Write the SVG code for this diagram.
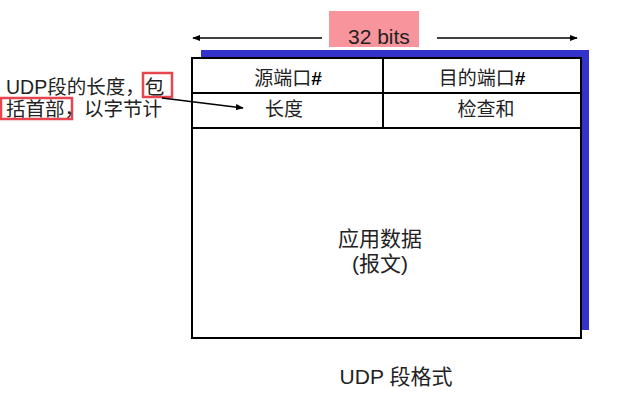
<svg xmlns="http://www.w3.org/2000/svg" width="619" height="401" viewBox="0 0 619 401">
<defs>
<style>
.t{font-family:"Liberation Sans","Noto Sans CJK SC",sans-serif;fill:#222;}
.ln{stroke:#000;stroke-width:2;fill:none;}
.hl{fill:none;stroke:#e8464f;stroke-width:2.5;}
</style>
<marker id="ah2" viewBox="0 0 10 10" refX="9" refY="5" markerWidth="8" markerHeight="8" orient="auto" markerUnits="userSpaceOnUse">
<path d="M0,1 L10,5 L0,9 z" fill="#000"/>
</marker>
</defs>
<rect width="619" height="401" fill="#fff"/>
<g id="header">
<rect x="329" y="11" width="90" height="36" fill="#f7949c"/>
<text class="t" x="348" y="44" font-size="21" fill="#000">32 bits</text>
</g>
<g id="segment">
<rect x="201" y="50" width="388" height="280" fill="#3333cc"/>
<rect x="192" y="58" width="389" height="280" fill="#fff" stroke="#000" stroke-width="2"/>
<line class="ln" x1="192" y1="93" x2="581" y2="93"/>
<line class="ln" x1="192" y1="128" x2="581" y2="128"/>
<line class="ln" x1="383" y1="58" x2="383" y2="128"/>
</g>
<g id="src-port"><text class="t" x="288" y="85" font-size="19" text-anchor="middle">源端口<tspan font-weight="bold" fill="#000">#</tspan></text></g>
<g id="dst-port"><text class="t" x="482" y="85" font-size="19" text-anchor="middle">目的端口<tspan font-weight="bold" fill="#000">#</tspan></text></g>
<g id="length"><text class="t" x="284" y="116" font-size="19" text-anchor="middle">长度</text></g>
<g id="checksum"><text class="t" x="486" y="116" font-size="19" text-anchor="middle">检查和</text></g>
<g id="data">
<text class="t" x="380" y="246" font-size="21" text-anchor="middle">应用数据</text>
<text class="t" x="380" y="271" font-size="21" text-anchor="middle">(报文)</text>
</g>
<g id="note">
<rect class="hl" x="143" y="73" width="29" height="24"/>
<rect class="hl" x="1" y="98" width="71" height="21"/>
<text class="t" x="6" y="94" font-size="19.5">UDP段的长度，包</text>
<text class="t" x="6" y="116" font-size="19.5">括首部，以字节计</text>
</g>
<g id="caption"><text class="t" x="396" y="384" font-size="21" text-anchor="middle">UDP 段格式</text></g>
<g id="connectors">
<line x1="322" y1="38" x2="193" y2="38" stroke="#000" stroke-width="1.5" marker-end="url(#ah2)"/>
<line x1="437" y1="38" x2="577" y2="38" stroke="#000" stroke-width="1.5" marker-end="url(#ah2)"/>
<line x1="162" y1="98" x2="243" y2="108" stroke="#000" stroke-width="1.5" marker-end="url(#ah2)"/>
</g>
</svg>
